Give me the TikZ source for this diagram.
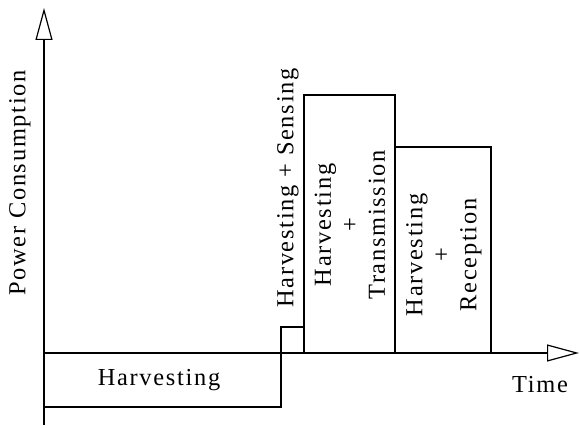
\documentclass[tikz,border=0pt]{standalone}
\usepackage{fontspec}
\setmainfont{Liberation Serif}
\newfontfamily\spaced[LetterSpace=7]{Liberation Serif}
\usetikzlibrary{arrows.meta}
\tikzset{
    axis/.style={line width=0.6pt, -{Triangle[open, length=16pt, width=8.5pt, line width=0.6pt]}},
    block/.style={draw, line width=0.6pt},
    lbl/.style={font=\fontsize{12.2}{13.5}\selectfont\spaced, inner sep=0pt, align=center},
    vlbl/.style={lbl, rotate=90},
}

\begin{document}
\begin{tikzpicture}[x=0.5pt, y=0.5pt]
    \useasboundingbox (0,0) rectangle (580,428);
    % axes
    \coordinate (origin) at (44,3);
    \coordinate (ytip) at (44,420);
    \coordinate (xstart) at (44,75);
    \coordinate (xtip) at (579,75);
    % phases
    \draw[block] (44,21) rectangle (281,75);
    \draw[block] (281,75) rectangle (304,101);
    \draw[block] (304,75) rectangle (395,333);
    \draw[block] (395,75) rectangle (491,281);
    \draw[axis] (origin) -- (ytip);
    \draw[axis] (xstart) -- (xtip);
    % labels
    \node[vlbl] (power) at (20,245) {Power Consumption};
    \node[lbl] (time) at (540,43) {Time};
    \node[lbl] (harv) at (159,48) {Harvesting};
    \node[vlbl] (sens) at (288,240) {Harvesting + Sensing};
    \node[vlbl] (trans) at (350,203) {Harvesting\\+\\Transmission};
    \node[vlbl] (recp) at (444,173) {Harvesting\\+\\Reception};
\end{tikzpicture}
\end{document}
